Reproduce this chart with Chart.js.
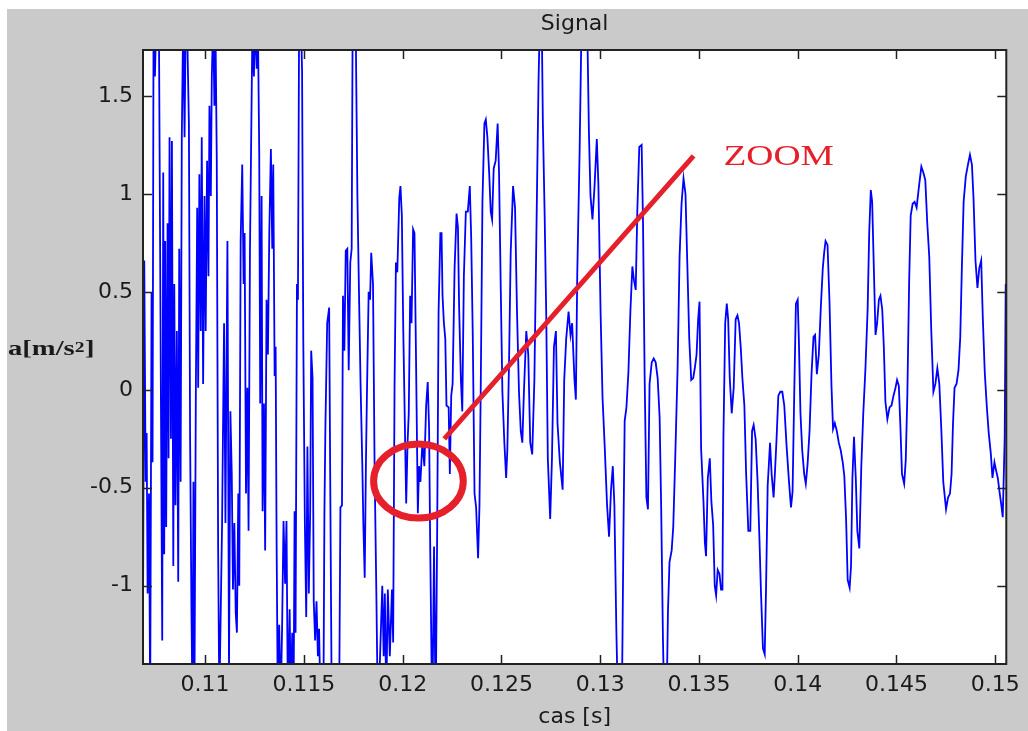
<!DOCTYPE html>
<html>
<head>
<meta charset="utf-8">
<title>Signal</title>
<script src="https://cdn.jsdelivr.net/npm/chart.js@4.4.1/dist/chart.umd.min.js"></script>
<style>
  html, body { margin: 0; padding: 0; background: #fff; }
  #frame { position: absolute; left: 7px; top: 9px; width: 1021px; height: 722px; background: #cacaca; }
  canvas { display: block; }
</style>
</head>
<body>
<div id="frame"><canvas id="signalChart" width="1021" height="722"></canvas></div>
<script>
// sample times in ms
const casMs = [
  106.80, 106.85, 106.92, 106.99, 107.04, 107.09, 107.16, 107.22, 107.29, 107.34,
  107.39, 107.46, 107.53, 107.66, 107.83, 107.88, 107.93, 107.98, 108.03, 108.10,
  108.15, 108.20, 108.27, 108.32, 108.39, 108.44, 108.50, 108.57, 108.64, 108.69,
  108.76, 108.82, 108.89, 108.96, 109.02, 109.08, 109.18, 109.24, 109.31, 109.36,
  109.41, 109.46, 109.53, 109.60, 109.65, 109.71, 109.78, 109.83, 109.90, 109.97,
  110.03, 110.10, 110.17, 110.22, 110.29, 110.34, 110.41, 110.47, 110.52, 110.59,
  110.66, 110.72, 110.86, 110.96, 111.03, 111.13, 111.21, 111.28, 111.35, 111.41,
  111.48, 111.55, 111.61, 111.68, 111.73, 111.80, 111.88, 111.95, 112.00, 112.07,
  112.14, 112.20, 112.27, 112.40, 112.47, 112.54, 112.61, 112.67, 112.74, 112.79,
  112.86, 112.91, 112.98, 113.04, 113.11, 113.18, 113.25, 113.33, 113.40, 113.45,
  113.52, 113.57, 113.62, 113.68, 113.75, 113.83, 113.90, 113.97, 114.05, 114.12,
  114.19, 114.28, 114.34, 114.41, 114.48, 114.53, 114.58, 114.65, 114.70, 114.76,
  114.85, 114.91, 114.97, 115.05, 115.12, 115.18, 115.25, 115.32, 115.37, 115.44,
  115.50, 115.57, 115.64, 115.71, 115.77, 115.84, 115.92, 115.99, 116.04, 116.09,
  116.18, 116.28, 116.34, 116.41, 116.56, 116.78, 116.85, 116.93, 116.98, 117.05,
  117.12, 117.20, 117.27, 117.35, 117.42, 117.47, 117.62, 117.71, 117.79, 117.87,
  117.96, 118.01, 118.08, 118.14, 118.19, 118.28, 118.35, 118.41, 118.50, 118.58,
  118.67, 118.75, 118.97, 119.04, 119.10, 119.17, 119.25, 119.35, 119.46, 119.52,
  119.59, 119.66, 119.73, 119.83, 119.89, 119.96, 120.03, 120.18, 120.25, 120.31,
  120.38, 120.45, 120.53, 120.60, 120.68, 120.77, 120.83, 120.90, 121.00, 121.10,
  121.19, 121.27, 121.34, 121.40, 121.50, 121.59, 121.67, 121.75, 121.82, 121.91,
  121.97, 122.02, 122.09, 122.16, 122.22, 122.33, 122.39, 122.46, 122.53, 122.63,
  122.73, 122.80, 122.86, 122.95, 123.02, 123.10, 123.20, 123.30, 123.40, 123.47,
  123.55, 123.64, 123.72, 123.82, 123.89, 123.96, 124.04, 124.14, 124.21, 124.29,
  124.38, 124.46, 124.53, 124.61, 124.71, 124.81, 124.88, 124.97, 125.05, 125.15,
  125.24, 125.30, 125.39, 125.47, 125.59, 125.69, 125.79, 125.89, 125.98, 126.06,
  126.14, 126.26, 126.36, 126.46, 126.56, 126.67, 126.77, 126.88, 126.95, 127.04,
  127.10, 127.19, 127.27, 127.35, 127.47, 127.56, 127.66, 127.76, 127.84, 127.96,
  128.10, 128.18, 128.28, 128.40, 128.50, 128.58, 128.70, 128.77, 128.84, 128.96,
  129.06, 129.34, 129.43, 129.51, 129.61, 129.71, 129.83, 129.91, 130.02, 130.12,
  130.23, 130.35, 130.45, 130.55, 130.64, 130.72, 130.82, 130.92, 131.09, 131.18,
  131.24, 131.33, 131.43, 131.53, 131.63, 131.71, 131.80, 131.88, 131.98, 132.10,
  132.17, 132.25, 132.34, 132.42, 132.50, 132.61, 132.71, 132.81, 132.91, 133.01,
  133.09, 133.18, 133.26, 133.35, 133.43, 133.51, 133.62, 133.70, 133.80, 133.92,
  134.02, 134.12, 134.22, 134.32, 134.41, 134.51, 134.61, 134.71, 134.79, 134.88,
  134.96, 135.03, 135.11, 135.23, 135.30, 135.36, 135.45, 135.55, 135.63, 135.72,
  135.80, 135.87, 135.95, 136.04, 136.12, 136.19, 136.24, 136.33, 136.41, 136.48,
  136.56, 136.66, 136.76, 136.86, 136.95, 137.03, 137.12, 137.20, 137.30, 137.39,
  137.50, 137.60, 137.69, 137.77, 137.87, 137.97, 138.06, 138.14, 138.24, 138.33,
  138.40, 138.48, 138.60, 138.68, 138.78, 138.85, 138.93, 139.02, 139.12, 139.22,
  139.32, 139.44, 139.56, 139.66, 139.74, 139.83, 139.91, 140.00, 140.06, 140.14,
  140.23, 140.33, 140.41, 140.50, 140.60, 140.70, 140.80, 140.88, 140.97, 141.07,
  141.17, 141.27, 141.34, 141.41, 141.51, 141.61, 141.71, 141.79, 141.88, 141.98,
  142.08, 142.18, 142.28, 142.36, 142.45, 142.53, 142.63, 142.70, 142.77, 142.85,
  142.94, 143.02, 143.12, 143.22, 143.32, 143.43, 143.54, 143.62, 143.70, 143.77,
  143.86, 143.94, 144.02, 144.11, 144.19, 144.28, 144.36, 144.44, 144.54, 144.65,
  144.75, 144.85, 144.95, 145.03, 145.12, 145.20, 145.28, 145.39, 145.47, 145.55,
  145.64, 145.72, 145.82, 145.92, 146.02, 146.13, 146.26, 146.36, 146.46, 146.56,
  146.66, 146.76, 146.87, 146.97, 147.07, 147.17, 147.27, 147.37, 147.51, 147.61,
  147.71, 147.79, 147.86, 147.94, 148.04, 148.14, 148.23, 148.31, 148.40, 148.51,
  148.62, 148.72, 148.82, 148.90, 149.00, 149.10, 149.19, 149.29, 149.37, 149.47,
  149.57, 149.67, 149.78, 149.86, 149.96, 150.04, 150.13, 150.23, 150.31, 150.38,
  150.44, 150.48, 150.53, 150.60
];

// acceleration a [m/s^2], one value per sample time above
const accel = [
  1.33, -1.37, 0.66, -0.47, -0.22, -1.04, -0.53, -1.60, 0.50, -0.37,
  1.90, 1.60, 1.90, 1.90, -1.28, 1.11, -0.84, 0.76, -0.70, 0.85,
  -0.35, 1.29, -0.25, 1.27, -0.90, 0.54, -0.59, 0.30, -0.98, 0.72,
  -0.47, 1.29, 1.90, 1.29, 1.90, 1.90, 1.36, -0.24, -1.14, -1.60,
  -0.47, -1.60, -0.03, 0.93, 0.01, 1.10, 0.30, 1.29, 0.03, 0.99,
  0.30, 1.17, 0.58, 1.45, 0.99, 1.60, 1.90, 1.45, 1.90, 1.18,
  -0.81, -1.60, -0.68, 0.34, -0.68, 0.76, -1.43, -0.11, -0.43, -1.02,
  -0.68, -1.14, -1.24, -0.53, -1.00, 0.76, 1.15, 0.54, 0.80, -0.53,
  0.01, -0.72, 0.70, 1.90, 1.60, 1.90, 1.64, 1.90, 1.21, -0.07,
  0.99, -0.62, -0.07, -0.82, 0.46, 0.18, 0.80, 1.23, 0.72, 1.15,
  0.07, 0.22, -0.78, -1.60, -1.20, -1.60, -1.20, -0.67, -0.99, -0.67,
  -1.60, -1.12, -1.60, -1.24, -1.60, -0.62, -1.24, 0.54, 0.46, 1.90,
  1.90, 1.62, 0.26, -0.68, -1.16, -0.29, -1.04, -0.62, 0.20, 0.06,
  -1.08, -1.28, -1.08, -1.36, -1.22, -1.60, -1.40, -1.60, -0.63, -0.19,
  0.34, 0.42, -0.55, -1.60, -1.70, -1.70, -0.60, -0.59, 0.48, 0.20,
  0.71, 0.72, 0.10, 0.65, 0.72, 1.90, 1.90, 0.99, 0.50, 0.03,
  -0.39, -0.68, -0.96, -0.39, -0.04, 0.50, 0.46, 0.70, 0.54, -0.39,
  -1.04, -1.70, -1.00, -1.36, -1.04, -1.60, -1.02, -1.36, -1.02, -1.29,
  0.01, 0.65, 0.60, 0.98, 1.04, 0.89, 0.32, -0.58, -0.27, -0.12,
  0.48, 0.34, 0.82, 0.80, 0.14, -0.63, -0.39, -0.47, -0.27, -0.39,
  -0.08, 0.04, -0.20, -0.84, -1.70, -0.80, -1.70, -0.70, 0.40, 0.80,
  0.80, 0.48, 0.34, 0.26, -0.08, -0.09, -0.43, -0.03, 0.03, 0.62,
  0.90, 0.83, 0.42, 0.05, -0.11, 0.58, 0.91, 0.91, 1.04, 0.78,
  0.28, -0.53, -0.60, -0.86, -0.59, 0.07, 0.96, 1.36, 1.38, 1.29,
  1.11, 0.91, 0.87, 1.13, 1.17, 1.36, 1.11, 0.50, -0.01, -0.27,
  -0.45, -0.31, 0.16, 0.70, 1.04, 0.93, 0.40, -0.01, -0.21, -0.27,
  -0.01, 0.30, 0.18, -0.27, -0.33, 0.05, 0.78, 1.58, 1.90, 1.90,
  1.36, 0.89, 0.38, -0.35, -0.66, -0.35, 0.22, 0.30, -0.17, -0.37,
  -0.51, 0.05, 0.26, 0.40, 0.28, 0.34, 0.05, -0.05, 0.59, 1.22,
  1.90, 1.90, 1.32, 0.99, 0.87, 1.03, 1.28, 1.05, 0.40, -0.04,
  -0.29, -0.59, -0.75, -0.51, -0.39, -0.59, -1.23, -1.70, -1.70, -0.72,
  -0.16, -0.09, 0.09, 0.40, 0.63, 0.56, 0.51, 0.91, 1.24, 1.25,
  0.85, 0.08, -0.55, -0.61, 0.03, 0.14, 0.16, 0.14, 0.06, -0.14,
  -0.61, -1.28, -1.70, -1.70, -1.14, -0.88, -0.82, -0.70, -0.35, 0.11,
  0.68, 0.95, 1.08, 1.00, 0.65, 0.26, 0.05, 0.06, 0.11, 0.18,
  0.36, 0.45, -0.30, -0.57, -0.78, -0.85, -0.45, -0.35, -0.57, -0.69,
  -1.00, -1.05, -0.92, -0.94, -1.02, -1.02, -0.24, 0.34, 0.44, 0.36,
  0.06, -0.12, 0.01, 0.36, 0.38, 0.34, 0.21, 0.06, -0.08, -0.43,
  -0.72, -0.72, -0.21, -0.18, -0.25, -0.47, -0.75, -1.03, -1.32, -1.35,
  -1.00, -0.49, -0.27, -0.43, -0.55, -0.42, -0.25, -0.03, -0.01, -0.01,
  -0.08, -0.29, -0.47, -0.60, -0.52, 0.01, 0.44, 0.46, 0.25, -0.12,
  -0.31, -0.43, -0.48, -0.38, -0.21, 0.08, 0.27, 0.28, 0.08, 0.18,
  0.42, 0.62, 0.70, 0.76, 0.74, 0.45, 0.02, -0.20, -0.17, -0.21,
  -0.27, -0.31, -0.37, -0.44, -0.66, -0.97, -1.01, -0.90, -0.45, -0.24,
  -0.45, -0.72, -0.81, -0.39, -0.12, 0.11, 0.41, 0.80, 1.02, 0.96,
  0.60, 0.28, 0.34, 0.46, 0.48, 0.41, 0.22, -0.06, -0.15, -0.09,
  -0.08, -0.03, 0.01, 0.05, 0.02, -0.19, -0.43, -0.48, -0.36, -0.03,
  0.54, 0.89, 0.95, 0.96, 0.93, 1.03, 1.14, 1.11, 1.07, 0.85,
  0.68, 0.31, -0.01, 0.03, 0.11, 0.03, -0.20, -0.47, -0.61, -0.55,
  -0.53, -0.43, -0.18, 0.01, 0.03, 0.10, 0.27, 0.62, 0.96, 1.09,
  1.15, 1.20, 1.15, 0.98, 0.66, 0.52, 0.62, 0.66, 0.37, 0.09,
  -0.08, -0.22, -0.33, -0.45, -0.37, -0.41, -0.45, -0.53, -0.59, -0.65,
  -0.41, -0.24, 0.54, 0.40
];

const xTicks = [0.11, 0.115, 0.12, 0.125, 0.13, 0.135, 0.14, 0.145, 0.15];
const yTicks = [-1, -0.5, 0, 0.5, 1, 1.5];

// red "ZOOM" callout, in axis units (s, m/s^2)
const zoomRing = { x: 0.12080, y: -0.466, rx: 0.00227, ry: 0.189 };
const zoomArrow = { x1: 0.12211, y1: -0.251, x2: 0.13473, y2: 1.194 };
const zoomText = { x: 0.13624, y: 1.148, text: 'ZOOM' };

const ink = '#1a1a1a';
const red = '#e6202a';
const sansFont = { family: 'DejaVu Sans', size: 22, weight: 'normal', lineHeight: 1.2 };

const axesFrame = {
  id: 'axesFrame',
  beforeDraw(chart) {
    const { ctx, chartArea: a } = chart;
    ctx.save();
    ctx.fillStyle = '#fff';
    ctx.fillRect(a.left, a.top, a.width, a.height);
    ctx.restore();
  },
  afterDatasetsDraw(chart) {
    const { ctx, chartArea: a, scales } = chart;
    const xs = scales.x, ys = scales.y;

    // callout
    ctx.save();
    ctx.beginPath();
    ctx.rect(a.left, a.top, a.width, a.height);
    ctx.clip();
    ctx.strokeStyle = red;
    ctx.lineWidth = 5;
    ctx.beginPath();
    ctx.moveTo(xs.getPixelForValue(zoomArrow.x1), ys.getPixelForValue(zoomArrow.y1));
    ctx.lineTo(xs.getPixelForValue(zoomArrow.x2), ys.getPixelForValue(zoomArrow.y2));
    ctx.stroke();
    const cx = xs.getPixelForValue(zoomRing.x), cy = ys.getPixelForValue(zoomRing.y);
    const rx = xs.getPixelForValue(zoomRing.x + zoomRing.rx) - cx;
    const ry = cy - ys.getPixelForValue(zoomRing.y + zoomRing.ry);
    ctx.lineWidth = 7;
    ctx.beginPath();
    ctx.ellipse(cx, cy, rx, ry, 0, 0, Math.PI * 2);
    ctx.stroke();
    ctx.fillStyle = red;
    ctx.font = '30px "Liberation Serif"';
    ctx.textBaseline = 'alphabetic';
    ctx.translate(xs.getPixelForValue(zoomText.x), ys.getPixelForValue(zoomText.y));
    ctx.scale(1.25, 1);
    ctx.fillText(zoomText.text, 0, 0);
    ctx.restore();

    // box and inward ticks on all four sides
    ctx.save();
    ctx.strokeStyle = '#222';
    ctx.lineWidth = 1.5;
    ctx.beginPath();
    xTicks.forEach(v => {
      const px = Math.round(xs.getPixelForValue(v)) + 0.5;
      ctx.moveTo(px, a.bottom); ctx.lineTo(px, a.bottom - 9);
      ctx.moveTo(px, a.top); ctx.lineTo(px, a.top + 9);
    });
    yTicks.forEach(v => {
      const py = Math.round(ys.getPixelForValue(v)) + 0.5;
      ctx.moveTo(a.left, py); ctx.lineTo(a.left + 9, py);
      ctx.moveTo(a.right, py); ctx.lineTo(a.right - 9, py);
    });
    ctx.stroke();
    ctx.lineWidth = 2;
    ctx.strokeRect(a.left, a.top, a.width, a.height);
    ctx.restore();
  },
  afterDraw(chart) {
    // horizontal y label a[m/s^2]
    const { ctx, chartArea: a } = chart;
    const base = (a.top + a.bottom) / 2 - 2;
    ctx.save();
    ctx.fillStyle = ink;
    ctx.textBaseline = 'alphabetic';
    ctx.translate(1, base);
    ctx.scale(1.3, 1);
    ctx.font = 'bold 22px "Liberation Serif"';
    ctx.fillText('a[m/s', 0, 0);
    let w = ctx.measureText('a[m/s').width;
    ctx.font = 'bold 15px "Liberation Serif"';
    ctx.fillText('2', w, -3);
    w += ctx.measureText('2').width + 0.5;
    ctx.font = 'bold 22px "Liberation Serif"';
    ctx.fillText(']', w, 0);
    ctx.restore();
  }
};

new Chart(document.getElementById('signalChart'), {
  type: 'line',
  data: {
    datasets: [{
      data: casMs.map((t, i) => ({ x: t / 1000, y: accel[i] })),
      borderColor: '#0000ff',
      borderWidth: 1.8,
      pointRadius: 0,
      tension: 0,
      fill: false,
      clip: 0
    }]
  },
  options: {
    responsive: false,
    animation: false,
    events: [],
    layout: { padding: { left: 0, right: 19, top: 0, bottom: 0 } },
    plugins: {
      legend: { display: false },
      tooltip: { enabled: false },
      title: {
        display: true,
        text: 'Signal',
        fullSize: false,
        color: ink,
        font: sansFont,
        padding: { top: 2, bottom: 12.6 }
      }
    },
    scales: {
      x: {
        type: 'linear',
        min: 0.106856,
        max: 0.15056,
        grid: { display: false, drawTicks: false },
        border: { display: false },
        afterBuildTicks: s => { s.ticks = xTicks.map(v => ({ value: v })); },
        afterFit: s => { s.height = 67; },
        ticks: {
          padding: 8,
          color: ink,
          font: sansFont,
          maxRotation: 0,
          autoSkip: false,
          callback: v => String(v)
        },
        title: {
          display: true,
          text: 'cas [s]',
          color: ink,
          font: sansFont,
          padding: { top: 0, bottom: 1 }
        }
      },
      y: {
        min: -1.4,
        max: 1.735,
        grid: { display: false, drawTicks: false },
        border: { display: false },
        afterBuildTicks: s => { s.ticks = yTicks.map(v => ({ value: v })); },
        afterFit: s => { s.width = 136; },
        ticks: {
          padding: 10,
          color: ink,
          font: sansFont,
          autoSkip: false,
          callback: v => String(v)
        }
      }
    }
  },
  plugins: [axesFrame]
});
</script>
</body>
</html>
